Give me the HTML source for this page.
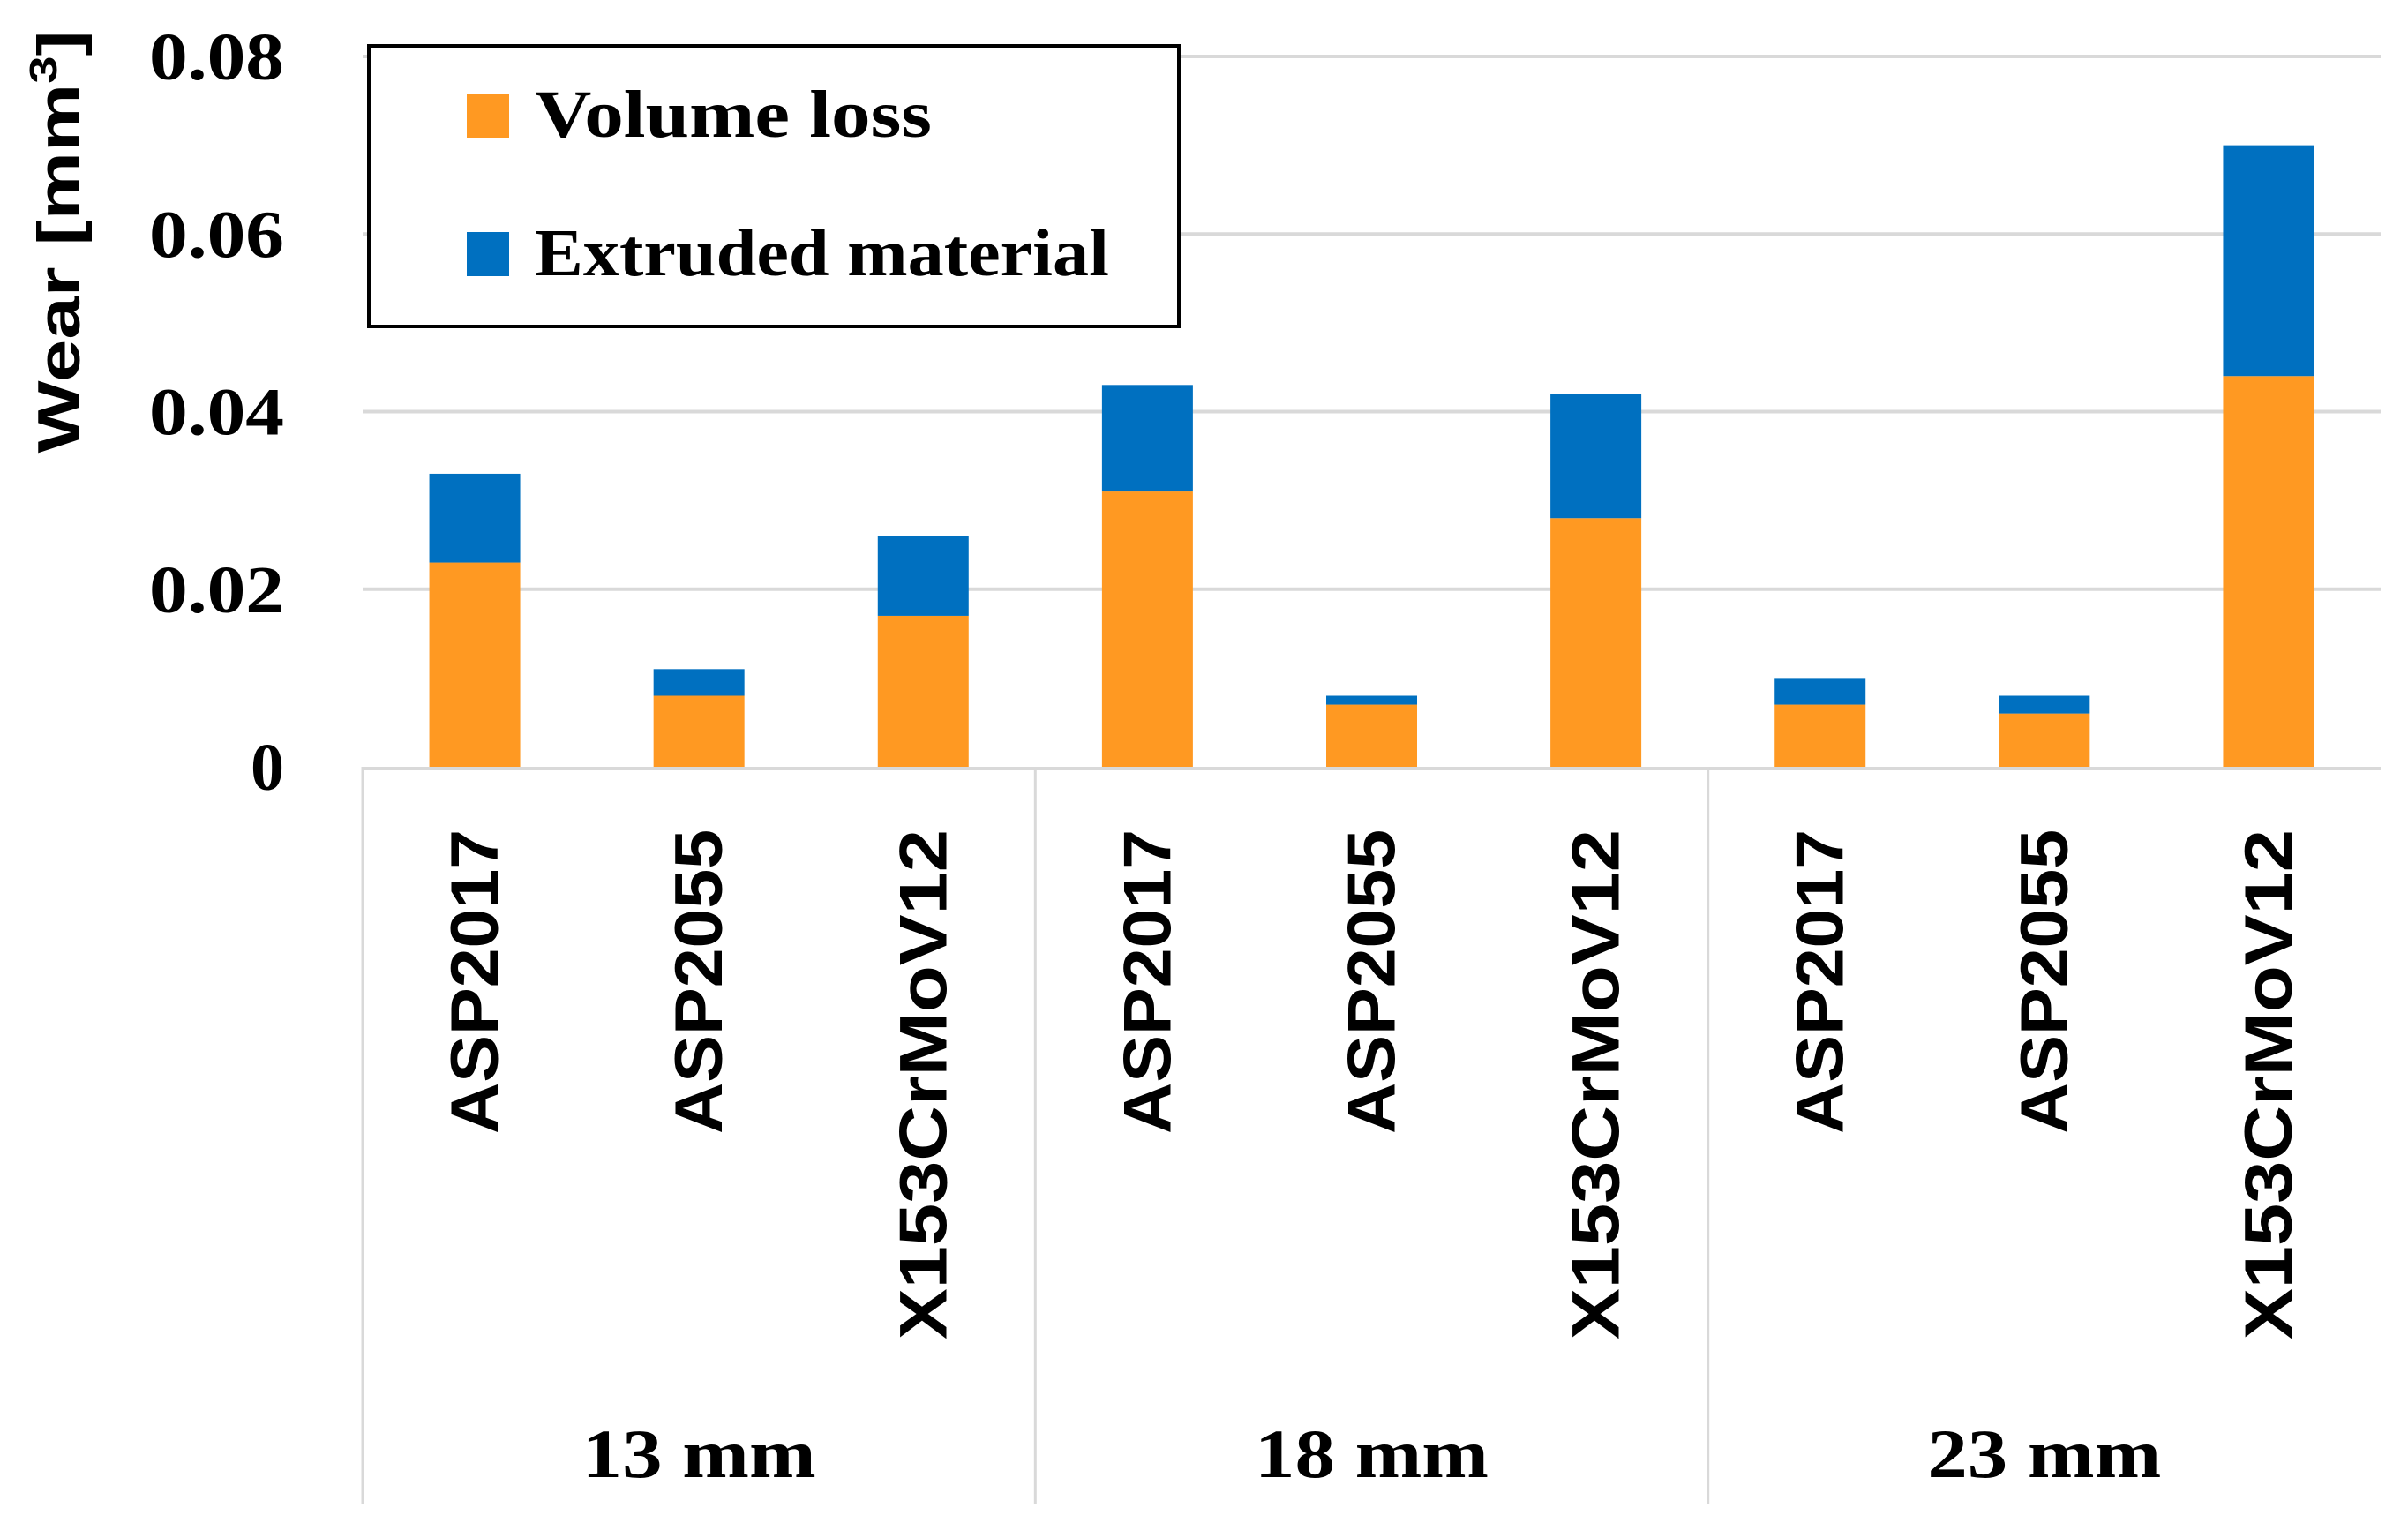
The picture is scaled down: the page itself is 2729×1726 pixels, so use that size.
<!DOCTYPE html>
<html><head><meta charset="utf-8"><style>
html,body{margin:0;padding:0;background:#fff;}
svg{display:block;}
</style></head><body>
<svg id="chart" width="2729" height="1726" viewBox="0 0 2729 1726" xmlns="http://www.w3.org/2000/svg">
<g id="grid"></g>
<g id="bars"></g>
<g id="axes"></g>
<text transform="translate(90,274) rotate(-90)" text-anchor="middle" font-family="Liberation Sans, sans-serif" font-weight="bold" font-size="68" textLength="479" lengthAdjust="spacingAndGlyphs">Wear [mm<tspan font-size="44" dy="-26">3</tspan><tspan dy="26">]</tspan></text>
<g>
<rect x="418" y="52" width="918" height="318" fill="#fff" stroke="#000" stroke-width="4"/>
<rect x="529" y="106" width="48" height="50" fill="#FF9922"/>
<text x="606" y="155" font-family="Liberation Serif, serif" font-weight="bold" font-size="76" textLength="450" lengthAdjust="spacingAndGlyphs">Volume loss</text>
<rect x="529" y="263" width="48" height="50" fill="#0070C0"/>
<text x="606" y="312" font-family="Liberation Serif, serif" font-weight="bold" font-size="76" textLength="651" lengthAdjust="spacingAndGlyphs">Extruded material</text>
</g>
</svg>
<script>
const categories = ["ASP2017","ASP2055","X153CrMoV12","ASP2017","ASP2055","X153CrMoV12","ASP2017","ASP2055","X153CrMoV12"];
const groups = ["13 mm","18 mm","23 mm"];
const volumeLoss = [0.023,0.008,0.017,0.031,0.007,0.028,0.007,0.006,0.044];
const extruded = [0.010,0.003,0.009,0.012,0.001,0.014,0.003,0.002,0.026];
const yTicks = [0,0.02,0.04,0.06,0.08];
const yTickLabels = ["0","0.02","0.04","0.06","0.08"];

const NS="http://www.w3.org/2000/svg";
const X0=411, X1=2698, Y0=869, YTOP=64, YMAX=0.08;
const catW=(X1-X0)/categories.length, barW=103;
function y(v){return Y0-(v/YMAX)*(Y0-YTOP);}
function xc(i){return X0+catW*(i+0.5);}
function mk(tag,attrs,parent){const e=document.createElementNS(NS,tag);for(const k in attrs)e.setAttribute(k,attrs[k]);parent.appendChild(e);return e;}
const grid=document.getElementById('grid'),bars=document.getElementById('bars'),axes=document.getElementById('axes');
yTicks.forEach((t,i)=>{
  if(t>0){const l=mk('line',{x1:X0,x2:X1,y1:y(t),y2:y(t),stroke:'#d9d9d9','stroke-width':4},grid);
  
  }
  const tx=mk('text',{x:322,y:y(t)+26,'text-anchor':'end','font-family':'Liberation Serif, serif','font-weight':'bold','font-size':76},axes);
  if(t>0){tx.setAttribute('textLength',153);tx.setAttribute('lengthAdjust','spacingAndGlyphs');}
  tx.textContent=yTickLabels[i];
  
  
});
categories.forEach((c,i)=>{
  const v=volumeLoss[i], e=extruded[i];
  const r1=mk('rect',{x:xc(i)-barW/2,y:y(v),width:barW,height:Y0-y(v),fill:'#FF9922'},bars);
  
  
  const r2=mk('rect',{x:xc(i)-barW/2,y:y(v+e),width:barW,height:y(v)-y(v+e),fill:'#0070C0'},bars);
  
  
  const lt=mk('text',{transform:`translate(${xc(i)+26},940) rotate(-90)`,'text-anchor':'end','font-family':'Liberation Sans, sans-serif','font-weight':'bold','font-size':76,textLength:(c.length>8?578:345),lengthAdjust:'spacingAndGlyphs'},axes);
  lt.textContent=c;
  
  
});
const base=mk('line',{x1:X0,x2:X1,y1:Y0+2,y2:Y0+2,stroke:'#d9d9d9','stroke-width':4},axes);


for(let g=0;g<=groups.length;g++){
  const gx=X0+g*3*catW;
  if(g<groups.length||true){
    if(g<groups.length){const l=mk('line',{x1:gx,x2:gx,y1:Y0,y2:1705,stroke:'#d9d9d9','stroke-width':3},axes);
    
    }
  }
  if(g<groups.length){
    const t=mk('text',{x:gx+1.5*catW,y:1674,'text-anchor':'middle','font-family':'Liberation Serif, serif','font-weight':'bold','font-size':78,textLength:265,lengthAdjust:'spacingAndGlyphs'},axes);
    t.textContent=groups[g];
    
    
  }
}
</script>
</body></html>
